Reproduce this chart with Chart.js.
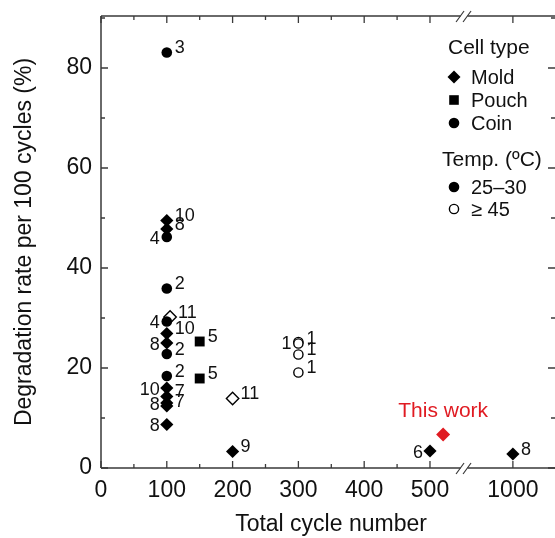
<!DOCTYPE html>
<html>
<head>
<meta charset="utf-8">
<script src="https://cdn.jsdelivr.net/npm/chart.js@4.4.0/dist/chart.umd.min.js"></script>
<style>
  html, body { margin: 0; padding: 0; background: #fff; }
  canvas { display: block; }
</style>
</head>
<body>
<canvas id="grafica" width="555" height="538"></canvas>
<script>
// ---- data ----
const xTicks = [0, 100, 200, 300, 400, 500, 1000];
const yTicks = [0, 20, 40, 60, 80];

// mold cells, 25-30 C (filled diamonds)
const moldX = [100, 100, 100, 100, 100, 100, 100, 100, 100, 200, 500, 1000];
const moldY = [49.5, 47.8, 26.9, 25.0, 16.0, 14.3, 13.0, 12.4, 8.7, 3.3, 3.4, 2.8];
const moldRef = ['10', '8', '10', '8', '10', '7', '8', '7', '8', '9', '6', '8'];

// coin cells, 25-30 C (filled circles)
const coinX = [100, 100, 100, 100, 100, 100];
const coinY = [83.1, 46.2, 35.9, 29.3, 22.8, 18.4];
const coinRef = ['3', '4', '2', '4', '2', '2'];

// pouch cells, 25-30 C (filled squares)
const pouchX = [150, 150];
const pouchY = [25.3, 17.9];
const pouchRef = ['5', '5'];

// mold cells, >= 45 C (open diamonds)
const moldHotX = [105, 200];
const moldHotY = [30.2, 13.9];
const moldHotRef = ['11', '11'];

// coin cells, >= 45 C (open circles)
const coinHotX = [300, 300, 300, 300];
const coinHotY = [25.2, 24.9, 22.7, 19.1];
const coinHotRef = ['1', '1', '1', '1'];

// this work
const workX = [520];
const workY = [6.7];

// which reference numbers sit on the left of their marker
const leftRefs = {
  mold: [3, 4, 6, 8, 10],
  coin: [1, 3],
  coinHot: [0]
};

// ---- broken x axis: 0..550 linear, then jump to 1000 ----
const BREAK_AT = 551;
function bx(v) {
  return v <= 550 ? v : 626 + (v - 1000) * 0.2;
}

const FONT = '"Liberation Sans", Arial, Helvetica, sans-serif';
const INK = '#111';
const AXIS = '#3a3a3a';
const RED = '#e01b22';

function pts(xs, ys) {
  return xs.map((x, i) => ({ x: bx(x), y: ys[i] }));
}

const datasets = [
  { key: 'mold', data: pts(moldX, moldY), refs: moldRef, pointStyle: 'rectRot', pointRadius: 6.6,
    backgroundColor: '#000', borderColor: '#000', borderWidth: 0 },
  { key: 'coin', data: pts(coinX, coinY), refs: coinRef, pointStyle: 'circle', pointRadius: 5.3,
    backgroundColor: '#000', borderColor: '#000', borderWidth: 0 },
  { key: 'pouch', data: pts(pouchX, pouchY), refs: pouchRef, pointStyle: 'rect', pointRadius: 7,
    backgroundColor: '#000', borderColor: '#000', borderWidth: 0 },
  { key: 'moldHot', data: pts(moldHotX, moldHotY), refs: moldHotRef, pointStyle: 'rectRot', pointRadius: 6.2,
    backgroundColor: '#fff', borderColor: '#000', borderWidth: 1.4 },
  { key: 'coinHot', data: pts(coinHotX, coinHotY), refs: coinHotRef, pointStyle: 'circle', pointRadius: 4.6,
    backgroundColor: '#fff', borderColor: '#000', borderWidth: 1.4 },
  { key: 'work', data: pts(workX, workY), refs: [], pointStyle: 'rectRot', pointRadius: 7,
    backgroundColor: RED, borderColor: RED, borderWidth: 0 }
];

/* =========================
   axes, ticks, labels, legend
   ========================= */

function symbol(ctx, kind, x, y, filled) {
  ctx.save();
  ctx.fillStyle = '#000';
  ctx.strokeStyle = '#000';
  ctx.lineWidth = 1.4;
  ctx.beginPath();
  if (kind === 'diamond') {
    ctx.moveTo(x, y - 6.5); ctx.lineTo(x + 6.5, y); ctx.lineTo(x, y + 6.5); ctx.lineTo(x - 6.5, y); ctx.closePath();
  } else if (kind === 'square') {
    ctx.rect(x - 4.8, y - 4.8, 9.6, 9.6);
  } else {
    ctx.arc(x, y, filled ? 5.3 : 4.6, 0, Math.PI * 2);
  }
  if (filled) ctx.fill(); else ctx.stroke();
  ctx.restore();
}

const framePlugin = {
  id: 'frame',
  afterDatasetsDraw(chart) {
    const ctx = chart.ctx;
    const a = chart.chartArea;
    const xs = chart.scales.x;
    const ys = chart.scales.y;
    const brk = xs.getPixelForValue(BREAK_AT);

    ctx.save();
    ctx.strokeStyle = AXIS;
    ctx.lineWidth = 1.5;

    // frame with a gap at the break
    ctx.beginPath();
    ctx.moveTo(a.left, a.top); ctx.lineTo(a.left, a.bottom);
    [a.top, a.bottom].forEach(yy => {
      ctx.moveTo(a.left, yy); ctx.lineTo(brk - 3, yy);
      ctx.moveTo(brk + 4, yy); ctx.lineTo(a.right, yy);
    });
    ctx.stroke();

    // break marks //
    ctx.lineWidth = 1.2;
    ctx.beginPath();
    [a.top, a.bottom].forEach(yy => {
      [-3.5, 3.5].forEach(off => {
        ctx.moveTo(brk + off - 4, yy + 6);
        ctx.lineTo(brk + off + 4, yy - 5);
      });
    });
    ctx.stroke();

    // inward ticks
    ctx.lineWidth = 1.3;
    ctx.beginPath();
    const xMinor = [50, 150, 250, 350, 450];
    xTicks.forEach(t => {
      const px = xs.getPixelForValue(bx(t));
      ctx.moveTo(px, a.bottom); ctx.lineTo(px, a.bottom - 7);
      ctx.moveTo(px, a.top); ctx.lineTo(px, a.top + 7);
    });
    xMinor.forEach(t => {
      const px = xs.getPixelForValue(bx(t));
      ctx.moveTo(px, a.bottom); ctx.lineTo(px, a.bottom - 4);
      ctx.moveTo(px, a.top); ctx.lineTo(px, a.top + 4);
    });
    [10, 30, 50, 70, 90].forEach(t => {
      const py = ys.getPixelForValue(t);
      ctx.moveTo(a.left, py); ctx.lineTo(a.left + 4, py);
      ctx.moveTo(a.right, py); ctx.lineTo(a.right - 4, py);
    });
    yTicks.forEach(t => {
      const py = ys.getPixelForValue(t);
      ctx.moveTo(a.left, py); ctx.lineTo(a.left + 7, py);
      ctx.moveTo(a.right, py); ctx.lineTo(a.right - 7, py);
    });
    ctx.stroke();

    // tick labels
    ctx.fillStyle = INK;
    ctx.font = '23px ' + FONT;
    ctx.textAlign = 'center';
    ctx.textBaseline = 'alphabetic';
    xTicks.forEach(t => {
      ctx.fillText(String(t), xs.getPixelForValue(bx(t)), a.bottom + 29);
    });
    ctx.textAlign = 'right';
    ctx.textBaseline = 'middle';
    yTicks.forEach(t => {
      ctx.fillText(String(t), a.left - 9, ys.getPixelForValue(t));
    });

    // axis titles
    ctx.textAlign = 'center';
    ctx.textBaseline = 'alphabetic';
    ctx.fillText('Total cycle number', (a.left + a.right) / 2 + 3, 531);
    ctx.save();
    ctx.translate(25, (a.top + a.bottom) / 2);
    ctx.rotate(-Math.PI / 2);
    ctx.textBaseline = 'middle';
    ctx.fillText('Degradation rate per 100 cycles (%)', 0, 0);
    ctx.restore();

    // reference numbers next to the markers
    ctx.font = '18px ' + FONT;
    ctx.textBaseline = 'middle';
    chart.data.datasets.forEach((ds, di) => {
      const meta = chart.getDatasetMeta(di);
      const lefts = leftRefs[ds.key] || [];
      ds.refs.forEach((r, i) => {
        const el = meta.data[i];
        if (lefts.includes(i)) {
          ctx.textAlign = 'right';
          ctx.fillText(r, el.x - 7, el.y + 2);
        } else {
          ctx.textAlign = 'left';
          ctx.fillText(r, el.x + 8, el.y - 4);
        }
      });
      if (ds.key === 'work') {
        const el = meta.data[0];
        ctx.fillStyle = RED;
        ctx.font = '21px ' + FONT;
        ctx.textAlign = 'center';
        ctx.fillText('This work', el.x, el.y - 23);
        ctx.fillStyle = INK;
        ctx.font = '18px ' + FONT;
      }
    });

    // legend
    ctx.textAlign = 'left';
    ctx.textBaseline = 'middle';
    ctx.font = '21px ' + FONT;
    ctx.fillText('Cell type', 448, 48);
    ctx.fillText('Temp. (\u00baC)', 442, 160);
    ctx.font = '20px ' + FONT;
    const items = [
      ['diamond', 77, 'Mold', true],
      ['square', 100, 'Pouch', true],
      ['circle', 123, 'Coin', true],
      ['circle', 187, '25\u201330', true],
      ['circle', 209, '\u2265 45', false]
    ];
    items.forEach(([kind, yy, txt, filled]) => {
      symbol(ctx, kind, 454, yy, filled);
      ctx.fillStyle = INK;
      ctx.fillText(txt, 471, yy + 1);
    });

    ctx.restore();
  }
};

new Chart(document.getElementById('grafica').getContext('2d'), {
  type: 'scatter',
  data: { datasets: datasets },
  options: {
    responsive: false,
    animation: false,
    devicePixelRatio: 1,
    layout: { autoPadding: false, padding: { left: 101, top: 16, right: 0, bottom: 70 } },
    plugins: {
      legend: { display: false },
      tooltip: { enabled: false }
    },
    scales: {
      x: { type: 'linear', display: false, min: 0, max: 690 },
      y: { type: 'linear', display: false, min: 0, max: 90.4 }
    }
  },
  plugins: [framePlugin]
});
</script>
</body>
</html>
